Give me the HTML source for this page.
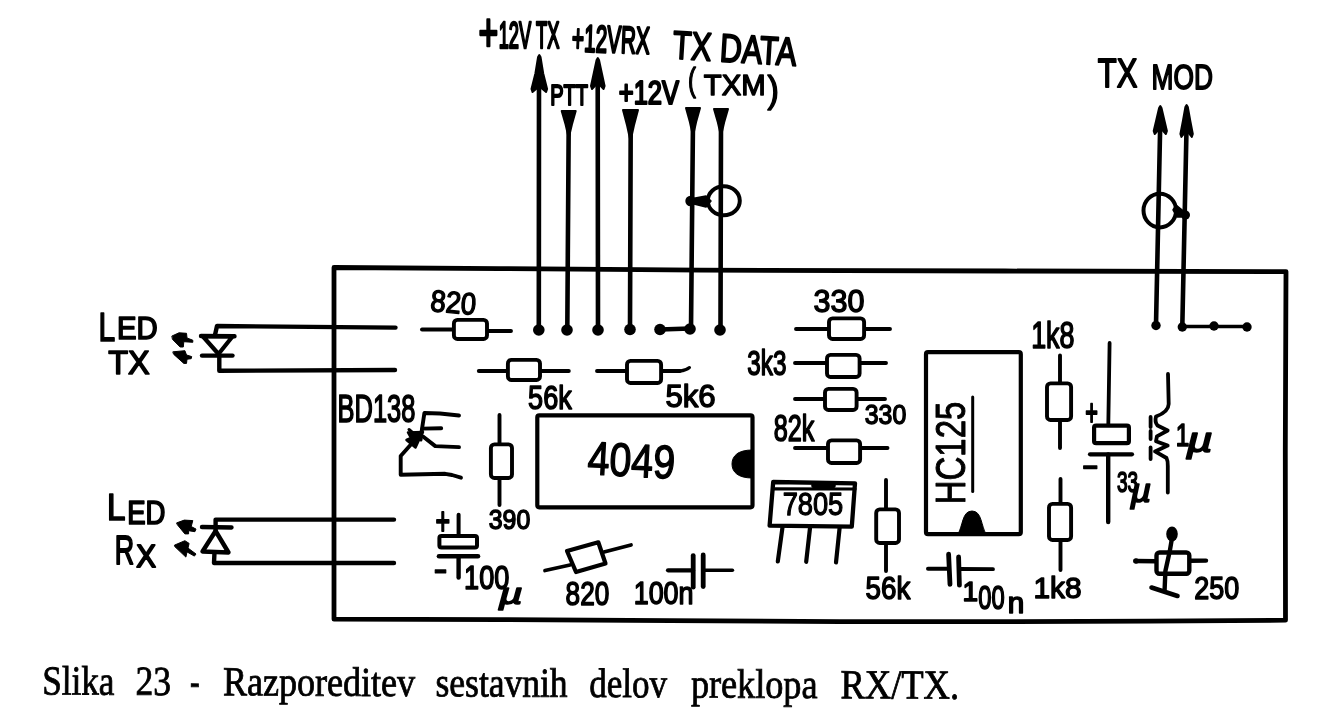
<!DOCTYPE html>
<html lang="sl"><head><meta charset="utf-8"><title>Slika 23 - Razporeditev sestavnih delov preklopa RX/TX</title>
<style>
html,body{margin:0;padding:0;background:#fff;}
body{width:1341px;height:709px;overflow:hidden;}
svg{display:block;filter:grayscale(1);}
svg path,svg polygon,svg rect,svg ellipse{stroke-linecap:round;stroke-linejoin:round;}
text{fill:#000;}
.h{font-family:"Liberation Sans",sans-serif;font-size:100px;}
.c{font-family:"Liberation Serif",serif;font-size:100px;}
</style></head><body>
<svg width="1341" height="709" viewBox="0 0 1341 709">
<rect x="0" y="0" width="1341" height="709" fill="#fff" stroke="none"/>
<path d="M334.0 267.5 L500.0 268.6 L640.0 269.6 L700.0 270.2 L1005.0 271.0 L1286.0 271.6 L1285.3 450.0 L1285.5 620.2 L1150.0 621.2 L1005.0 621.6 L840.0 621.6 L670.0 620.6 L500.0 619.6 L334.0 619.2 Z" fill="none" stroke="#000" stroke-width="4.8"/>
<path d="M539.0 70.0 L538.8 330.0" fill="none" stroke="#000" stroke-width="4.6"/>
<polygon points="538.1,57.0 539.3,55.0 540.5,57.0 543.2,73.5 547.1,89.0 546.1,92.0 541.3,88.0 537.3,88.0 532.5,92.0 531.5,89.0 535.4,73.5" fill="#000" stroke="#000" stroke-width="2.0"/>
<path d="M568.7 125.0 L567.3 330.0" fill="none" stroke="#000" stroke-width="4.6"/>
<polygon points="561.7,111.0 575.7,111.0 571.9,124.5 568.7,138.0 565.6,124.5" fill="#000" stroke="#000" stroke-width="2.0"/>
<path d="M597.7 70.0 L598.0 330.0" fill="none" stroke="#000" stroke-width="4.6"/>
<polygon points="596.6,60.0 597.8,58.0 599.0,60.0 601.9,73.5 604.6,86.0 603.6,89.0 599.8,85.0 595.8,85.0 592.0,89.0 591.0,86.0 593.7,73.5" fill="#000" stroke="#000" stroke-width="2.0"/>
<path d="M630.7 125.0 L630.0 329.0" fill="none" stroke="#000" stroke-width="4.6"/>
<polygon points="623.0,110.0 638.0,110.0 633.9,125.5 630.5,141.0 627.1,125.5" fill="#000" stroke="#000" stroke-width="2.0"/>
<path d="M693.0 120.0 L691.0 329.0" fill="none" stroke="#000" stroke-width="4.6"/>
<polygon points="686.0,108.0 700.0,108.0 696.1,122.0 693.0,136.0 689.9,122.0" fill="#000" stroke="#000" stroke-width="2.0"/>
<path d="M721.0 120.0 L720.5 330.0" fill="none" stroke="#000" stroke-width="4.6"/>
<polygon points="714.0,109.0 728.0,109.0 724.1,122.5 721.0,136.0 717.9,122.5" fill="#000" stroke="#000" stroke-width="2.0"/>
<path d="M1160.3 120.0 L1156.0 325.0" fill="none" stroke="#000" stroke-width="4.6"/>
<polygon points="1159.1,108.0 1160.3,106.0 1161.5,108.0 1164.3,120.0 1166.9,131.0 1165.9,134.0 1162.3,130.0 1158.3,130.0 1154.7,134.0 1153.7,131.0 1156.3,120.0" fill="#000" stroke="#000" stroke-width="2.0"/>
<path d="M1186.7 120.0 L1182.3 327.0" fill="none" stroke="#000" stroke-width="4.6"/>
<polygon points="1185.4,107.0 1186.6,105.0 1187.8,107.0 1190.3,121.0 1192.8,134.0 1191.8,137.0 1188.6,133.0 1184.6,133.0 1181.4,137.0 1180.4,134.0 1182.9,121.0" fill="#000" stroke="#000" stroke-width="2.0"/>
<circle cx="538.8" cy="330.0" r="5.8" fill="#000"/>
<circle cx="567.0" cy="330.0" r="5.8" fill="#000"/>
<circle cx="598.0" cy="330.0" r="5.8" fill="#000"/>
<circle cx="630.0" cy="329.5" r="5.8" fill="#000"/>
<circle cx="660.0" cy="329.5" r="5.8" fill="#000"/>
<circle cx="690.0" cy="329.0" r="5.8" fill="#000"/>
<circle cx="720.0" cy="330.0" r="5.8" fill="#000"/>
<path d="M660.0 329.5 L690.0 328.5" fill="none" stroke="#000" stroke-width="4.6"/>
<circle cx="1156.0" cy="325.5" r="4.7" fill="#000"/>
<circle cx="1182.3" cy="327.0" r="4.7" fill="#000"/>
<circle cx="1214.0" cy="326.0" r="4.7" fill="#000"/>
<circle cx="1247.0" cy="327.0" r="4.7" fill="#000"/>
<path d="M1182.0 326.5 L1247.0 326.5" fill="none" stroke="#000" stroke-width="3.6"/>
<ellipse cx="723.8" cy="200.8" rx="16" ry="14.5" fill="none" stroke="#000" stroke-width="4"/>
<circle cx="690.5" cy="201.0" r="5.2" fill="#000"/>
<polygon points="690.0,199.0 706.0,196.0 711.0,201.0 706.0,207.0 690.0,203.0" fill="#000" stroke="#000" stroke-width="1.5"/>
<ellipse cx="1159.8" cy="210.6" rx="16.3" ry="16.8" fill="none" stroke="#000" stroke-width="4"/>
<circle cx="1185.5" cy="215.0" r="4.5" fill="#000"/>
<polygon points="1186.0,213.0 1176.0,205.0 1173.0,210.0 1177.0,217.0 1186.0,217.0" fill="#000" stroke="#000" stroke-width="1.5"/>
<path d="M215.0 335.0 L217.0 326.0 L395.5 327.6" fill="none" stroke="#000" stroke-width="4.4"/>
<path d="M219.3 355.0 L219.3 370.8 L395.0 370.0" fill="none" stroke="#000" stroke-width="4.4"/>
<polygon points="203.0,336.5 232.5,336.5 218.5,354.0" fill="#fff" stroke="#000" stroke-width="4.2"/>
<path d="M201.0 336.0 L234.5 336.2" fill="none" stroke="#000" stroke-width="4.4"/>
<path d="M202.0 355.6 L232.5 355.6" fill="none" stroke="#000" stroke-width="4.4"/>
<polygon points="172.2,335.9 179.0,332.8 186.5,333.3 187.0,338.0 192.8,340.2 192.8,342.3 183.8,341.7 183.3,347.0 180.1,347.0 172.7,339.6" fill="#000" stroke="#000" stroke-width="1.0"/>
<polygon points="173.2,351.8 184.9,350.7 186.5,355.0 191.7,356.6 191.2,358.7 187.0,359.2 186.5,363.4 183.8,363.4 173.8,354.4" fill="#000" stroke="#000" stroke-width="1.0"/>
<path d="M215.6 531.0 L215.6 519.6 L394.0 519.6" fill="none" stroke="#000" stroke-width="4.4"/>
<path d="M214.5 552.0 L214.0 563.0 L394.0 563.0" fill="none" stroke="#000" stroke-width="4.4"/>
<path d="M202.0 527.0 L231.5 527.5" fill="none" stroke="#000" stroke-width="4.4"/>
<polygon points="215.6,531.0 202.5,551.5 228.5,552.5" fill="#fff" stroke="#000" stroke-width="4.4"/>
<polygon points="176.9,522.8 184.3,520.1 192.8,520.6 191.2,526.5 196.0,529.1 194.9,531.7 188.6,530.7 188.6,533.9 184.9,533.9 177.5,524.9" fill="#000" stroke="#000" stroke-width="1.0"/>
<polygon points="174.8,545.0 184.9,540.7 189.1,543.4 188.0,548.1 196.0,554.0 194.4,556.1 187.0,551.9 185.9,557.1 174.8,546.6" fill="#000" stroke="#000" stroke-width="1.0"/>
<path d="M422.0 329.5 L454.0 329.5" fill="none" stroke="#000" stroke-width="3.9"/>
<path d="M487.0 331.0 L511.0 331.0" fill="none" stroke="#000" stroke-width="3.9"/>
<rect x="453.9" y="319.9" width="33.1" height="19.1" rx="3.5" fill="#fff" stroke="#000" stroke-width="3.9"/>
<path d="M478.8 371.0 L508.0 371.0" fill="none" stroke="#000" stroke-width="3.9"/>
<path d="M540.0 371.0 L568.8 371.0" fill="none" stroke="#000" stroke-width="3.9"/>
<rect x="507.9" y="359.9" width="32.1" height="20.1" rx="3.5" fill="#fff" stroke="#000" stroke-width="3.9"/>
<path d="M597.0 371.0 L627.0 371.0" fill="none" stroke="#000" stroke-width="3.9"/>
<path d="M661.0 371.0 L680.0 371.0" fill="none" stroke="#000" stroke-width="3.9"/>
<rect x="627.0" y="360.9" width="34.1" height="22.1" rx="3.5" fill="#fff" stroke="#000" stroke-width="3.9"/>
<path d="M680 371 Q686 370.5 689.5 367.5" fill="none" stroke="#000" stroke-width="3.0"/>
<path d="M499.5 415.0 L499.5 444.5" fill="none" stroke="#000" stroke-width="3.9"/>
<path d="M499.5 478.0 L499.5 505.0" fill="none" stroke="#000" stroke-width="3.9"/>
<rect x="490.9" y="444.4" width="21.1" height="33.6" rx="3.5" fill="#fff" stroke="#000" stroke-width="3.9"/>
<path d="M796.0 329.0 L829.0 329.0" fill="none" stroke="#000" stroke-width="3.9"/>
<path d="M864.0 329.0 L890.0 329.0" fill="none" stroke="#000" stroke-width="3.9"/>
<rect x="829.0" y="318.4" width="35.1" height="20.6" rx="3.5" fill="#fff" stroke="#000" stroke-width="3.9"/>
<path d="M795.0 363.0 L827.0 363.0" fill="none" stroke="#000" stroke-width="3.9"/>
<path d="M859.5 363.0 L886.0 363.0" fill="none" stroke="#000" stroke-width="3.9"/>
<rect x="827.0" y="354.9" width="32.6" height="22.1" rx="3.5" fill="#fff" stroke="#000" stroke-width="3.9"/>
<path d="M795.0 399.0 L825.0 399.0" fill="none" stroke="#000" stroke-width="3.9"/>
<path d="M856.5 399.0 L885.0 399.0" fill="none" stroke="#000" stroke-width="3.9"/>
<rect x="825.0" y="388.9" width="31.6" height="21.1" rx="3.5" fill="#fff" stroke="#000" stroke-width="3.9"/>
<path d="M795.0 448.0 L828.0 448.0" fill="none" stroke="#000" stroke-width="3.9"/>
<path d="M860.0 448.0 L887.5 448.0" fill="none" stroke="#000" stroke-width="3.9"/>
<rect x="828.0" y="440.4" width="32.1" height="22.6" rx="3.5" fill="#fff" stroke="#000" stroke-width="3.9"/>
<path d="M886.0 480.0 L886.0 509.5" fill="none" stroke="#000" stroke-width="3.9"/>
<path d="M886.0 543.0 L886.0 571.0" fill="none" stroke="#000" stroke-width="3.9"/>
<rect x="876.2" y="509.4" width="22.8" height="33.6" rx="3.5" fill="#fff" stroke="#000" stroke-width="3.9"/>
<path d="M1060.0 355.5 L1060.0 383.5" fill="none" stroke="#000" stroke-width="3.9"/>
<path d="M1060.0 420.0 L1060.0 448.0" fill="none" stroke="#000" stroke-width="3.9"/>
<rect x="1047.0" y="383.4" width="24.1" height="36.6" rx="3.5" fill="#fff" stroke="#000" stroke-width="3.9"/>
<path d="M1060.5 479.0 L1060.5 504.0" fill="none" stroke="#000" stroke-width="3.9"/>
<path d="M1060.5 540.0 L1060.5 570.0" fill="none" stroke="#000" stroke-width="3.9"/>
<rect x="1049.0" y="503.9" width="22.1" height="36.1" rx="3.5" fill="#fff" stroke="#000" stroke-width="3.9"/>
<path d="M545.0 570.5 L570.0 565.0" fill="none" stroke="#000" stroke-width="3.8"/>
<path d="M604.0 552.0 L631.0 545.0" fill="none" stroke="#000" stroke-width="3.8"/>
<polygon points="567.0,551.0 598.3,542.3 605.5,563.5 576.0,572.0" fill="#fff" stroke="#000" stroke-width="4.2"/>
<rect x="537.3" y="415.3" width="215.2" height="92" rx="2" fill="#fff" stroke="#000" stroke-width="4.2"/>
<path d="M752 450 C738 450 732 456 732 464 C732 472 738 478 752 478 Z" fill="#000" stroke="#000" stroke-width="1.0"/>
<rect x="926" y="352.2" width="94.8" height="182" rx="2" fill="#fff" stroke="#000" stroke-width="4.2"/>
<path d="M958 534 C963 526 962 511 972 511 C982 511 981 526 986 534 Z" fill="#000" stroke="#000" stroke-width="1.0"/>
<path d="M972.7 397.0 L972.7 491.5" fill="none" stroke="#000" stroke-width="3.0"/>
<polygon points="773.2,482.0 855.0,483.3 851.8,526.6 769.6,525.6" fill="#fff" stroke="#000" stroke-width="4.3"/>
<path d="M773.0 488.8 L855.0 489.0" fill="none" stroke="#000" stroke-width="3.2"/>
<path d="M814.0 485.6 L833.0 485.6" fill="none" stroke="#000" stroke-width="5.5"/>
<path d="M782.4 528.0 L777.8 561.5" fill="none" stroke="#000" stroke-width="4.2"/>
<path d="M810.0 528.0 L806.2 561.8" fill="none" stroke="#000" stroke-width="4.2"/>
<path d="M839.6 528.0 L836.0 562.5" fill="none" stroke="#000" stroke-width="4.2"/>
<path d="M458.6 514.8 L458.6 535.0" fill="none" stroke="#000" stroke-width="4.0"/>
<rect x="439.4" y="536.0" width="37.6" height="11.6" rx="2.0" fill="#fff" stroke="#000" stroke-width="4.0"/>
<path d="M439.0 556.3 L478.0 556.3" fill="none" stroke="#000" stroke-width="4.6"/>
<path d="M458.6 556.3 L458.6 577.6" fill="none" stroke="#000" stroke-width="4.4"/>
<path d="M1109.6 343.0 L1108.3 425.0" fill="none" stroke="#000" stroke-width="3.8"/>
<rect x="1094.1" y="425.7" width="34.8" height="17.5" rx="2.0" fill="#fff" stroke="#000" stroke-width="4.2"/>
<path d="M1090.0 454.3 L1132.0 454.3" fill="none" stroke="#000" stroke-width="4.2"/>
<path d="M1108.2 454.5 L1108.2 522.0" fill="none" stroke="#000" stroke-width="4.4"/>
<path d="M1168 374 L1168.7 404 Q1168.5 412 1156 416.5 Q1154.5 422 1157.5 425.5 L1167.7 430.5 L1156.9 436.4 L1156 441.3 L1167.7 445.6 L1155 451.4 L1166.5 458 Q1168 461 1167.8 466 L1167.8 492.5" fill="none" stroke="#000" stroke-width="3.8"/>
<path d="M1150.6 417.0 L1150.6 427.0" fill="none" stroke="#000" stroke-width="3.8"/>
<path d="M1150.6 431.0 L1150.6 439.0" fill="none" stroke="#000" stroke-width="3.8"/>
<path d="M1150.6 447.5 L1150.6 459.0" fill="none" stroke="#000" stroke-width="3.8"/>
<path d="M1135.5 561.0 L1156.0 561.2" fill="none" stroke="#000" stroke-width="4.4"/>
<path d="M1190.0 560.8 L1206.0 560.6" fill="none" stroke="#000" stroke-width="4.4"/>
<circle cx="1136.0" cy="561.0" r="2.8" fill="#000"/>
<rect x="1156.5" y="552.5" width="32.8" height="21.3" rx="3.0" fill="#fff" stroke="#000" stroke-width="4.4"/>
<ellipse cx="1172" cy="534" rx="5.8" ry="7.4" fill="#000"/>
<path d="M1172.0 538.0 L1169.8 551.0 L1165.4 571.0 L1164.6 590.0" fill="none" stroke="#000" stroke-width="4.4"/>
<path d="M1151.5 587.5 L1177.5 596.0" fill="none" stroke="#000" stroke-width="4.6"/>
<path d="M668.0 570.3 L693.0 570.3" fill="none" stroke="#000" stroke-width="4.2"/>
<path d="M693.2 555.6 L693.2 587.2" fill="none" stroke="#000" stroke-width="4.8"/>
<path d="M703.2 555.0 L703.2 586.6" fill="none" stroke="#000" stroke-width="4.8"/>
<path d="M703.0 570.3 L732.4 570.3" fill="none" stroke="#000" stroke-width="3.6"/>
<path d="M928.0 568.8 L949.0 568.8" fill="none" stroke="#000" stroke-width="4.0"/>
<path d="M948.6 554.2 L950.0 584.4" fill="none" stroke="#000" stroke-width="4.8"/>
<path d="M958.6 557.0 L959.4 585.2" fill="none" stroke="#000" stroke-width="4.8"/>
<path d="M959.0 569.0 L993.0 569.2" fill="none" stroke="#000" stroke-width="3.8"/>
<path d="M459.0 415.5 L440.0 413.5 L424.4 413.0 L420.5 439.0" fill="none" stroke="#000" stroke-width="3.9"/>
<path d="M422.4 428.6 L441.2 428.2" fill="none" stroke="#000" stroke-width="3.9"/>
<path d="M423.0 436.5 L435.3 446.1 L459.0 447.1" fill="none" stroke="#000" stroke-width="3.9"/>
<path d="M414.0 441.0 L400.7 456.0 L400.7 474.8 L445.2 473.8 L452.0 475.0 L461.0 477.7" fill="none" stroke="#000" stroke-width="3.9"/>
<polygon points="423.0,432.0 408.0,432.5 411.0,438.0 406.5,440.0 415.5,447.5 418.5,441.0" fill="#000" stroke="#000" stroke-width="2.5"/>
<path d="M409.0 429.5 L421.0 440.0" fill="none" stroke="#000" stroke-width="3.0"/>
<text class="h" transform="translate(498.63 48.00) scale(0.1832 0.3728)" stroke="#000" stroke-width="7.2" stroke-linejoin="round"><tspan x="-110.4" y="7.1" font-size="142.3" textLength="107.9" lengthAdjust="spacingAndGlyphs">+</tspan><tspan x="0" y="0">12V TX</tspan></text>
<text class="h" transform="rotate(2.00 611.2 39.2) translate(572.01 52.50) scale(0.2077 0.3799)" stroke="#000" stroke-width="6.8" stroke-linejoin="round">+12VRX</text>
<text class="h" transform="translate(550.25 105.10) scale(0.2003 0.3011)" stroke="#000" stroke-width="7.2" stroke-linejoin="round">PTT</text>
<text class="h" transform="translate(618.79 103.50) scale(0.2551 0.3297)" stroke="#000" stroke-width="6.8" stroke-linejoin="round">+12V</text>
<text class="h" transform="rotate(3.50 735.0 48.5) translate(672.72 62.10) scale(0.3042 0.3956)" stroke="#000" stroke-width="5.1" stroke-linejoin="round">TX DATA</text>
<text class="h" transform="translate(703.84 95.30) scale(0.2933 0.2996)" stroke="#000" stroke-width="4.7" stroke-linejoin="round"><tspan x="-54.0" y="-16.0" font-size="109.5" textLength="27.0" lengthAdjust="spacingAndGlyphs">(</tspan><tspan x="0" y="0">TXM</tspan><tspan x="216.9" y="21.8" font-size="120.3" textLength="39.0" lengthAdjust="spacingAndGlyphs">)</tspan></text>
<text class="h" transform="translate(1097.80 87.20) scale(0.3099 0.4044)" stroke="#000" stroke-width="4.5" stroke-linejoin="round"><tspan x="0" y="0">TX</tspan><tspan x="150.1" y="4.1" font-size="87.0" textLength="221.4" lengthAdjust="spacingAndGlyphs"> MOD</tspan></text>
<text class="h" transform="translate(116.88 338.90) scale(0.2929 0.3156)" stroke="#000" stroke-width="5.3" stroke-linejoin="round"><tspan x="-62.7" y="7.3" font-size="128.6" textLength="57.0" lengthAdjust="spacingAndGlyphs">L</tspan><tspan x="0" y="0">ED</tspan></text>
<text class="h" transform="translate(108.27 374.20) scale(0.3245 0.3331)" stroke="#000" stroke-width="4.9" stroke-linejoin="round">TX</text>
<text class="h" transform="translate(127.23 524.20) scale(0.2754 0.3258)" stroke="#000" stroke-width="5.3" stroke-linejoin="round"><tspan x="-73.9" y="-12.3" font-size="114.7" textLength="67.0" lengthAdjust="spacingAndGlyphs">L</tspan><tspan x="0" y="0">ED</tspan></text>
<text class="h" transform="translate(114.79 564.20) scale(0.2684 0.3985)" stroke="#000" stroke-width="4.8" stroke-linejoin="round"><tspan x="0" y="0">R</tspan><tspan x="79.6" y="6.3" font-size="81.0" textLength="73.5" lengthAdjust="spacingAndGlyphs">X</tspan></text>
<text class="h" transform="rotate(5.00 453.5 302.5) translate(430.53 312.99) scale(0.2746 0.3053)" stroke="#000" stroke-width="4.8" stroke-linejoin="round">820</text>
<text class="h" transform="translate(528.12 408.97) scale(0.2709 0.3347)" stroke="#000" stroke-width="4.6" stroke-linejoin="round">56k</text>
<text class="h" transform="translate(665.45 406.98) scale(0.3116 0.3211)" stroke="#000" stroke-width="4.4" stroke-linejoin="round">5k6</text>
<text class="h" transform="translate(337.60 421.91) scale(0.2544 0.3901)" stroke="#000" stroke-width="4.3" stroke-linejoin="round">BD138</text>
<text class="h" transform="translate(488.77 529.02) scale(0.2487 0.2770)" stroke="#000" stroke-width="5.3" stroke-linejoin="round">390</text>
<text class="h" transform="rotate(3.00 631.0 460.2) translate(587.77 476.38) scale(0.3930 0.4693)" stroke="#000" stroke-width="3.0" stroke-linejoin="round">4049</text>
<text class="h" transform="translate(464.06 588.97) scale(0.2714 0.3336)" stroke="#000" stroke-width="4.6" stroke-linejoin="round"><tspan x="0" y="0">100</tspan><tspan x="128.2" y="43.8" font-size="90.1" textLength="88.3" lengthAdjust="spacingAndGlyphs" font-style="italic">µ</tspan></text>
<text class="h" transform="translate(565.59 604.97) scale(0.2620 0.3336)" stroke="#000" stroke-width="4.7" stroke-linejoin="round">820</text>
<text class="h" transform="translate(633.68 603.98) scale(0.2691 0.3194)" stroke="#000" stroke-width="4.8" stroke-linejoin="round">100n</text>
<text class="h" transform="translate(813.56 311.99) scale(0.3052 0.3053)" stroke="#000" stroke-width="4.6" stroke-linejoin="round">330</text>
<text class="h" transform="translate(747.29 375.46) scale(0.2425 0.3415)" stroke="#000" stroke-width="4.8" stroke-linejoin="round">3k3</text>
<text class="h" transform="translate(864.77 424.02) scale(0.2487 0.2770)" stroke="#000" stroke-width="5.3" stroke-linejoin="round">330</text>
<text class="h" transform="translate(773.63 440.94) scale(0.2522 0.3619)" stroke="#000" stroke-width="4.6" stroke-linejoin="round">82k</text>
<text class="h" transform="translate(782.64 515.48) scale(0.2725 0.3208)" stroke="#000" stroke-width="4.0" stroke-linejoin="round">7805</text>
<text class="h" transform="translate(865.59 598.99) scale(0.2773 0.3075)" stroke="#000" stroke-width="4.8" stroke-linejoin="round">56k</text>
<text class="h" transform="translate(978.25 608.77) scale(0.2373 0.3279)" stroke="#000" stroke-width="5.0" stroke-linejoin="round"><tspan x="-65.9" y="-24.0" font-size="86.5" textLength="65.6" lengthAdjust="spacingAndGlyphs">1</tspan><tspan x="0" y="0">00</tspan><tspan x="124.1" y="12.3" font-size="89.1" textLength="69.5" lengthAdjust="spacingAndGlyphs">n</tspan></text>
<text class="h" transform="translate(1031.18 347.92) scale(0.2687 0.3755)" stroke="#000" stroke-width="4.3" stroke-linejoin="round">1k8</text>
<text class="h" transform="translate(1033.46 597.51) scale(0.2988 0.2871)" stroke="#000" stroke-width="4.8" stroke-linejoin="round">1k8</text>
<text class="h" transform="translate(1116.99 491.70) scale(0.1903 0.3011)" stroke="#000" stroke-width="5.7" stroke-linejoin="round"><tspan x="0" y="0">33</tspan><tspan x="71.5" y="35.4" font-size="111.2" textLength="108.9" lengthAdjust="spacingAndGlyphs" font-style="italic">µ</tspan></text>
<text class="h" transform="translate(1175.86 445.80) scale(0.2451 0.3127)" stroke="#000" stroke-width="5.0" stroke-linejoin="round"><tspan x="0" y="0">1</tspan><tspan x="43.8" y="20.4" font-size="109.6" textLength="107.4" lengthAdjust="spacingAndGlyphs" font-style="italic">µ</tspan></text>
<text class="h" transform="translate(1194.35 598.98) scale(0.2696 0.3194)" stroke="#000" stroke-width="4.8" stroke-linejoin="round">250</text>
<text class="h" transform="translate(965.08 504.22) rotate(-90) scale(0.3294 0.4240)" stroke="#000" stroke-width="2.4" stroke-linejoin="round">HC125</text>
<text class="h" transform="translate(435.41 534.16) scale(0.2503 0.3959)" stroke="#000" stroke-width="5.0" stroke-linejoin="round">+</text>
<text class="h" transform="translate(433.99 583.79) scale(0.2227 0.3862)" stroke="#000" stroke-width="3.9" stroke-linejoin="round">−</text>
<text class="h" transform="translate(1085.17 424.90) scale(0.2174 0.3653)" stroke="#000" stroke-width="5.5" stroke-linejoin="round">+</text>
<text class="h" transform="translate(1082.23 478.98) scale(0.2742 0.3586)" stroke="#000" stroke-width="3.8" stroke-linejoin="round">−</text>
<text class="c" xml:space="preserve" transform="translate(44.5 694.4) rotate(0.27) scale(0.3520 0.4120)" stroke="#000" stroke-width="2.0"><tspan x="-6.7" textLength="205.2" lengthAdjust="spacingAndGlyphs">Slika</tspan> <tspan x="258.5" textLength="100.6" lengthAdjust="spacingAndGlyphs">23</tspan> <tspan x="413.1" textLength="27.3" lengthAdjust="spacingAndGlyphs">-</tspan> <tspan x="507.1" textLength="545.5" lengthAdjust="spacingAndGlyphs">Razporeditev</tspan> <tspan x="1111.0" textLength="374.8" lengthAdjust="spacingAndGlyphs">sestavnih</tspan> <tspan x="1547.9" textLength="220.4" lengthAdjust="spacingAndGlyphs">delov</tspan> <tspan x="1836.5" textLength="359.5" lengthAdjust="spacingAndGlyphs">preklopa</tspan> <tspan x="2261.4" textLength="336.9" lengthAdjust="spacingAndGlyphs">RX/TX.</tspan></text>
</svg>
</body></html>
